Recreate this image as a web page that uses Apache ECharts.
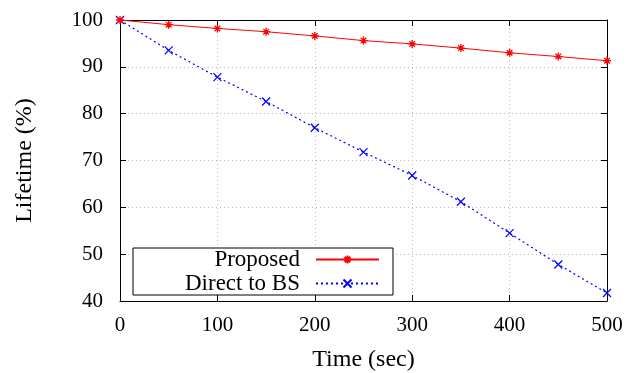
<!DOCTYPE html>
<html>
<head>
<meta charset="utf-8">
<script src="https://cdn.jsdelivr.net/npm/echarts@6/dist/echarts.min.js"></script>
<style>
  html, body { margin: 0; padding: 0; background: #fff; }
  #chart { width: 639px; height: 373px; }
</style>
</head>
<body>
<div id="chart"></div>
<script>
// values
var times = [0, 50, 100, 150, 200, 250, 300, 350, 400, 450, 500];
var proposed = [100, 99.0, 98.2, 97.5, 96.6, 95.6, 94.9, 94.0, 93.0, 92.2, 91.3];
var directToBS = [100, 93.5, 87.8, 82.6, 77.0, 71.8, 66.8, 61.2, 54.5, 47.8, 41.7];

function pairs(xs, ys) {
    var out = [];
    for (var i = 0; i < xs.length; i++) out.push([xs[i], ys[i]]);
    return out;
}

var serif = '"Liberation Serif", "DejaVu Serif", serif';
var starPath = 'path://M0,-10L0,10M-10,0L10,0M-7,-7L7,7M-7,7L7,-7';
var crossPath = 'path://M-10,-10L10,10M-10,10L10,-10';

var tickStyle = { show: true, inside: true, length: 6, lineStyle: { color: '#000', width: 1 } };
var gridLine = { show: true, lineStyle: { color: '#bbb', type: [1, 3], width: 1 } };

var myChart = echarts.init(document.getElementById('chart'));
var option = {
    animation: false,
    textStyle: { fontFamily: serif },
    grid: { left: 120, right: 32, top: 20, bottom: 72, outerBoundsMode: 'none', containLabel: false },
    legend: {
        orient: 'vertical',
        left: 133,
        top: 248,
        align: 'right',
        itemWidth: 63,
        itemHeight: 10,
        itemGap: 1,
        padding: [0, 13, 0, 52],
        borderColor: '#000',
        borderWidth: 1,
        borderRadius: 0,
        backgroundColor: '#fff',
        textStyle: {
            fontFamily: serif,
            fontSize: 23,
            lineHeight: 23,
            color: '#000',
            padding: [0, 11, 0, 0]
        },
        data: ['Proposed', 'Direct to BS']
    },
    xAxis: [{
        type: 'value', min: 0, max: 500, interval: 100,
        name: 'Time (sec)', nameLocation: 'middle', nameGap: 47,
        nameTextStyle: { fontSize: 24, color: '#000', fontFamily: serif },
        axisLine: { show: true, onZero: false, lineStyle: { color: '#000', width: 1 } },
        axisTick: tickStyle,
        axisLabel: { fontSize: 21, color: '#000', margin: 14, fontFamily: serif },
        splitLine: gridLine
    }, {
        type: 'value', position: 'top', min: 0, max: 500, interval: 100,
        axisLine: { show: true, onZero: false, lineStyle: { color: '#000', width: 1 } },
        axisTick: tickStyle,
        axisLabel: { show: false },
        splitLine: { show: false }
    }],
    yAxis: [{
        type: 'value', min: 40, max: 100, interval: 10,
        name: 'Lifetime (%)', nameLocation: 'middle', nameGap: 83,
        nameTextStyle: { fontSize: 24, color: '#000', fontFamily: serif },
        axisLine: { show: true, onZero: false, lineStyle: { color: '#000', width: 1 } },
        axisTick: tickStyle,
        axisLabel: { fontSize: 21, color: '#000', margin: 17, fontFamily: serif },
        splitLine: gridLine
    }, {
        type: 'value', position: 'right', min: 40, max: 100, interval: 10,
        axisLine: { show: true, onZero: false, lineStyle: { color: '#000', width: 1 } },
        axisTick: tickStyle,
        axisLabel: { show: false },
        splitLine: { show: false }
    }],
    series: [{
        name: 'Proposed',
        type: 'line',
        data: pairs(times, proposed),
        symbol: starPath,
        symbolSize: 8,
        lineStyle: { color: '#ff0000', width: 1 },
        itemStyle: { color: '#ff0000', borderColor: '#ff0000', borderWidth: 1.3 },
        z: 3
    }, {
        name: 'Direct to BS',
        type: 'line',
        data: pairs(times, directToBS),
        symbol: crossPath,
        symbolSize: 8,
        lineStyle: { color: '#0000ff', width: 1.2, type: [2, 3] },
        itemStyle: { color: '#0000ff', borderColor: '#0000ff', borderWidth: 1.2 },
        z: 2
    }]
};
myChart.setOption(option);
</script>
</body>
</html>
